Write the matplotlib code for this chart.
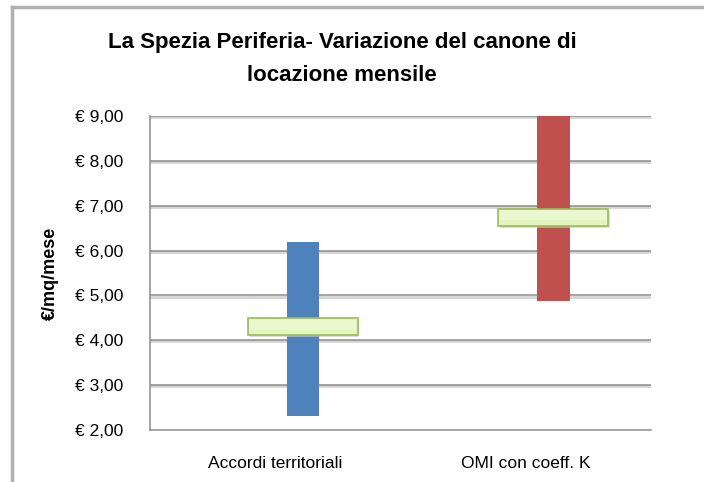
import matplotlib
matplotlib.use("Agg")
from matplotlib import pyplot as plt
from matplotlib.lines import Line2D

# data
categories = ["Accordi territoriali", "OMI con coeff. K"]
range_low = [2.31, 4.88]
range_high = [6.2, 9.0]
mean_value = [4.3, 6.74]
bar_colors = ["#4F81BD", "#C0504D"]
yticks = [2, 3, 4, 5, 6, 7, 8, 9]

title = "La Spezia Periferia- Variazione del canone di\nlocazione mensile"
ylabel = "€/mq/mese"

plt.rcParams['font.family'] = ['Liberation Sans', 'DejaVu Sans']

fig = plt.figure(figsize=(7.04, 4.82), dpi=100)
ax = fig.add_axes([150 / 704, 1 - 430 / 482, 501 / 704, 314 / 482])

x = list(range(len(categories)))
offset = 0.11

# gridlines with a soft shadow
for v in yticks[1:]:
    ax.axhline(v - 0.025, color="#d4d4d4", lw=2.0, zorder=0)
    ax.axhline(v, color="#8c8c8c", lw=1.1, zorder=0.5)

for i in x:
    ax.bar(i + offset, range_high[i] - range_low[i], bottom=range_low[i],
           width=0.13, color=bar_colors[i], zorder=2)
    # marker shadow
    ax.bar(i + offset + 0.006, 0.38, bottom=mean_value[i] - 0.19 - 0.04,
           width=0.44, color="#c8c8c8", alpha=0.6, zorder=2.5)
    ax.bar(i + offset, 0.38, bottom=mean_value[i] - 0.19, width=0.44,
           color="#E3F5BE", edgecolor="#9BBB59", linewidth=1.2, zorder=3)
    ax.bar(i + offset, 0.22, bottom=mean_value[i] - 0.06, width=0.425,
           color="#EAF8D0", linewidth=0, zorder=3.1)

ax.set_xlim(-0.5, 1.5)
ax.set_ylim(2, 9)
ax.set_yticks(yticks)
ax.set_yticklabels(["€ %d,00" % v for v in yticks], fontsize=12.5)
ax.set_xticks(x)
ax.set_xticklabels(categories, fontsize=12.5)
ax.tick_params(axis="x", length=0, pad=19)
ax.tick_params(axis="y", length=0, pad=19)

for s in ["top", "right"]:
    ax.spines[s].set_visible(False)
for s in ["left", "bottom"]:
    ax.spines[s].set_color("#8c8c8c")
    ax.spines[s].set_linewidth(1.1)

ax.set_ylabel(ylabel, fontsize=13, fontweight="bold", labelpad=12)

fig.text(342 / 704, 1 - 59 / 482, title, ha="center", va="center",
         fontsize=16, fontweight="bold", linespacing=1.8)

# outer chart frame
fig.add_artist(Line2D([12 / 704, 12 / 704], [0, 1 - 7 / 482],
                      transform=fig.transFigure, color="#b0b0b0", lw=2.5))
fig.add_artist(Line2D([12 / 704, 1], [1 - 7 / 482, 1 - 7 / 482],
                      transform=fig.transFigure, color="#b0b0b0", lw=2.5))

fig.savefig("out.png", dpi=100)
